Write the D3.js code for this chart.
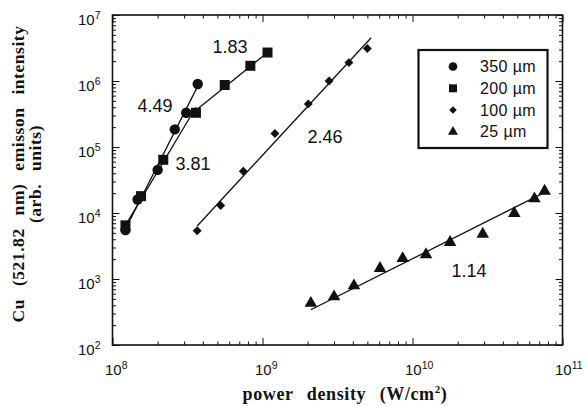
<!DOCTYPE html>
<html>
<head>
<meta charset="utf-8">
<script src="https://cdn.jsdelivr.net/npm/d3@7"></script>
<style>
  html, body { margin: 0; padding: 0; background: #fff; }
  svg { display: block; }
</style>
</head>
<body>
<svg id="chart" width="586" height="406"></svg>
<script>
// Cu 521.82 nm emission intensity versus laser power density, four spot sizes
const powerTicks = [1e8, 1e9, 1e10, 1e11];
const intensityTicks = [1e2, 1e3, 1e4, 1e5, 1e6, 1e7];

const power350 = [1.22e8, 1.47e8, 2.0e8, 2.6e8, 3.1e8, 3.7e8];
const intensity350 = [5.5e3, 1.6e4, 4.5e4, 1.85e5, 3.3e5, 9.0e5];

const power200 = [1.22e8, 1.55e8, 2.18e8, 3.6e8, 5.6e8, 8.3e8, 1.08e9];
const intensity200 = [6.5e3, 1.8e4, 6.4e4, 3.3e5, 8.7e5, 1.7e6, 2.7e6];

const power100 = [3.67e8, 5.26e8, 7.45e8, 1.21e9, 2.02e9, 2.78e9, 3.77e9, 5.0e9];
const intensity100 = [5.4e3, 1.3e4, 4.3e4, 1.6e5, 4.5e5, 1.0e6, 1.9e6, 3.1e6];

const power25 = [2.1e9, 3.0e9, 4.07e9, 6.07e9, 8.6e9, 1.23e10, 1.78e10, 2.94e10, 4.77e10, 6.5e10, 7.6e10];
const intensity25 = [430, 540, 790, 1450, 2050, 2350, 3600, 4800, 9900, 1.65e4, 2.15e4];

const seriesNames = ["350 \u00b5m", "200 \u00b5m", "100 \u00b5m", "25 \u00b5m"];

// power-law fits: slope in log-log space, over a power-density range
const fitSeries = ["350", "200", "200", "100", "25"];
const fitSlopes = [4.49, 3.81, 1.83, 2.46, 1.14];
const fitFrom = [1.22e8, 1.22e8, 3.6e8, 3.67e8, 2.1e9];
const fitTo = [3.7e8, 3.6e8, 1.08e9, 5.3e9, 7.45e10];
// where each slope value is written (label centre, baseline)
const slopeLabelAt = [[1.92e8, 3.39e5], [3.44e8, 4.49e4], [6.07e8, 2.65e6], [2.61e9, 1.15e5], [2.38e10, 1072]];

const svg = d3.select("#chart");
const plotLeft = 112.5, plotRight = 562.5, plotTop = 15, plotBottom = 345;

const x = d3.scaleLog().domain([1e8, 1e11]).range([plotLeft, plotRight]);
const y = d3.scaleLog().domain([1e2, 1e7]).range([plotBottom, plotTop]);

const series = {
  "350": { xs: power350, ys: intensity350, shape: "circle" },
  "200": { xs: power200, ys: intensity200, shape: "square" },
  "100": { xs: power100, ys: intensity100, shape: "diamond" },
  "25":  { xs: power25,  ys: intensity25,  shape: "triangle" }
};

// decade and minor tick values
function minorTicks(lo, hi) {
  const out = [];
  for (let e = lo; e < hi; e++) for (let k = 2; k <= 9; k++) out.push(k * Math.pow(10, e));
  return out;
}
const xMinor = minorTicks(8, 11);
const yMinor = minorTicks(2, 7);

const axes = svg.append("g").attr("stroke-width", 1);
function tickGroup(axisFn, scale, values, size, transform) {
  const g = axes.append("g").attr("transform", transform)
    .call(axisFn(scale).tickValues(values).tickSize(size).tickSizeOuter(0).tickFormat(""));
  g.select(".domain").remove();
  g.selectAll("line").attr("stroke", "#111");
}
tickGroup(d3.axisBottom, x, powerTicks, -7, `translate(0,${plotBottom})`);
tickGroup(d3.axisBottom, x, xMinor, -3.5, `translate(0,${plotBottom})`);
tickGroup(d3.axisTop, x, powerTicks, -7, `translate(0,${plotTop})`);
tickGroup(d3.axisTop, x, xMinor, -3.5, `translate(0,${plotTop})`);
tickGroup(d3.axisLeft, y, intensityTicks, -7, `translate(${plotLeft},0)`);
tickGroup(d3.axisLeft, y, yMinor, -3.5, `translate(${plotLeft},0)`);
tickGroup(d3.axisRight, y, intensityTicks, -7, `translate(${plotRight},0)`);
tickGroup(d3.axisRight, y, yMinor, -3.5, `translate(${plotRight},0)`);

// plot frame
svg.append("rect")
  .attr("x", plotLeft).attr("y", plotTop)
  .attr("width", plotRight - plotLeft).attr("height", plotBottom - plotTop)
  .attr("fill", "none").attr("stroke", "#111").attr("stroke-width", 1.6);

// tick labels as 10 with superscript exponent
const labelFont = "'Liberation Sans', Arial, sans-serif";
function powLabel(g, v) {
  const e = Math.round(Math.log10(v));
  g.append("tspan").text("10");
  g.append("tspan").attr("font-size", 10.5).attr("dy", -6).text(e);
}
svg.append("g").selectAll("text").data(powerTicks).join("text")
  .attr("x", d => x(d) - 7.5).attr("y", 375)
  .attr("font-family", labelFont).attr("font-size", 15).attr("fill", "#111")
  .each(function (d) { powLabel(d3.select(this), d); });
svg.append("g").selectAll("text").data(intensityTicks).join("text")
  .attr("x", 78).attr("y", d => y(d) + 10)
  .attr("font-family", labelFont).attr("font-size", 15).attr("fill", "#111")
  .each(function (d) { powLabel(d3.select(this), d); });

// axis titles
const titleFont = "'Liberation Serif', 'Times New Roman', serif";
svg.append("text")
  .attr("x", 345).attr("y", 400)
  .attr("text-anchor", "middle")
  .attr("font-family", titleFont).attr("font-weight", "bold").attr("font-size", 18)
  .attr("word-spacing", 8.5).attr("letter-spacing", 0.6).attr("fill", "#111")
  .call(t => {
    t.append("tspan").text("power density  (W/cm");
    t.append("tspan").attr("font-size", 11).attr("dy", -7).text("2");
    t.append("tspan").attr("dy", 7).text(")");
  });
const yTitle = svg.append("g").attr("transform", "translate(0,174) rotate(-90)");
yTitle.append("text")
  .attr("x", 0).attr("y", 24).attr("text-anchor", "middle")
  .attr("font-family", titleFont).attr("font-weight", "bold").attr("font-size", 17.5)
  .attr("word-spacing", 8).attr("letter-spacing", 0.55).attr("fill", "#111")
  .text("Cu (521.82 nm) emisson intensity");
yTitle.append("text")
  .attr("x", 0).attr("y", 40.5).attr("text-anchor", "middle")
  .attr("font-family", titleFont).attr("font-weight", "bold").attr("font-size", 17.5)
  .attr("word-spacing", 8).attr("letter-spacing", 0.55).attr("fill", "#111")
  .text("(arb. units)");

// fitted power-law lines: fixed slope, intercept from the mean of the log data
const lx = v => Math.log10(v);
const fits = fitSlopes.map((s, i) => {
  const sr = series[fitSeries[i]];
  const idx = sr.xs.map((v, j) => j).filter(j => sr.xs[j] >= fitFrom[i] * 0.999 && sr.xs[j] <= fitTo[i] * 1.001);
  const mx = d3.mean(idx, j => lx(sr.xs[j]));
  const my = d3.mean(idx, j => lx(sr.ys[j]));
  const at = v => Math.pow(10, my + s * (lx(v) - mx));
  return [[fitFrom[i], at(fitFrom[i])], [fitTo[i], at(fitTo[i])]];
});
svg.append("g").selectAll("path").data(fits).join("path")
  .attr("d", d3.line().x(d => x(d[0])).y(d => y(d[1])))
  .attr("fill", "none").attr("stroke", "#111").attr("stroke-width", 1.3);

// markers
const symbols = {
  circle: { sym: d3.symbol(d3.symbolCircle, 85), rot: 0 },
  square: { sym: d3.symbol(d3.symbolSquare, 100), rot: 0 },
  diamond: { sym: d3.symbol(d3.symbolSquare, 40), rot: 45 },
  triangle: { sym: d3.symbol(d3.symbolTriangle, 68), rot: 0 }
};
Object.values(series).forEach(sr => {
  const m = symbols[sr.shape];
  svg.append("g").selectAll("path").data(sr.xs.map((v, j) => [v, sr.ys[j]])).join("path")
    .attr("transform", d => `translate(${x(d[0])},${y(d[1])}) rotate(${m.rot})`)
    .attr("d", m.sym())
    .attr("fill", "#111");
});

// slope annotations
svg.append("g").selectAll("text").data(fitSlopes).join("text")
  .attr("x", (d, i) => x(slopeLabelAt[i][0])).attr("y", (d, i) => y(slopeLabelAt[i][1]))
  .attr("text-anchor", "middle")
  .attr("font-family", labelFont).attr("font-size", 18).attr("fill", "#111")
  .text(d => d.toFixed(2));

// legend
const legend = svg.append("g");
legend.append("rect")
  .attr("x", 418.5).attr("y", 50).attr("width", 129).attr("height", 98)
  .attr("fill", "#fff").attr("stroke", "#111").attr("stroke-width", 2.2);
const legendSymbols = [
  { sym: d3.symbol(d3.symbolCircle, 60), rot: 0 },
  { sym: d3.symbol(d3.symbolSquare, 64), rot: 0 },
  { sym: d3.symbol(d3.symbolSquare, 28), rot: 45 },
  { sym: d3.symbol(d3.symbolTriangle, 44), rot: 0 }
];
seriesNames.forEach((name, i) => {
  const cy = 66.5 + i * 21.8;
  legend.append("path").attr("transform", `translate(453,${cy}) rotate(${legendSymbols[i].rot})`)
    .attr("d", legendSymbols[i].sym()).attr("fill", "#111");
  legend.append("text").attr("x", 480).attr("y", cy + 5.5)
    .attr("font-family", labelFont).attr("font-size", 16).attr("letter-spacing", 0.4).attr("fill", "#111")
    .text(name);
});
</script>
</body>
</html>
